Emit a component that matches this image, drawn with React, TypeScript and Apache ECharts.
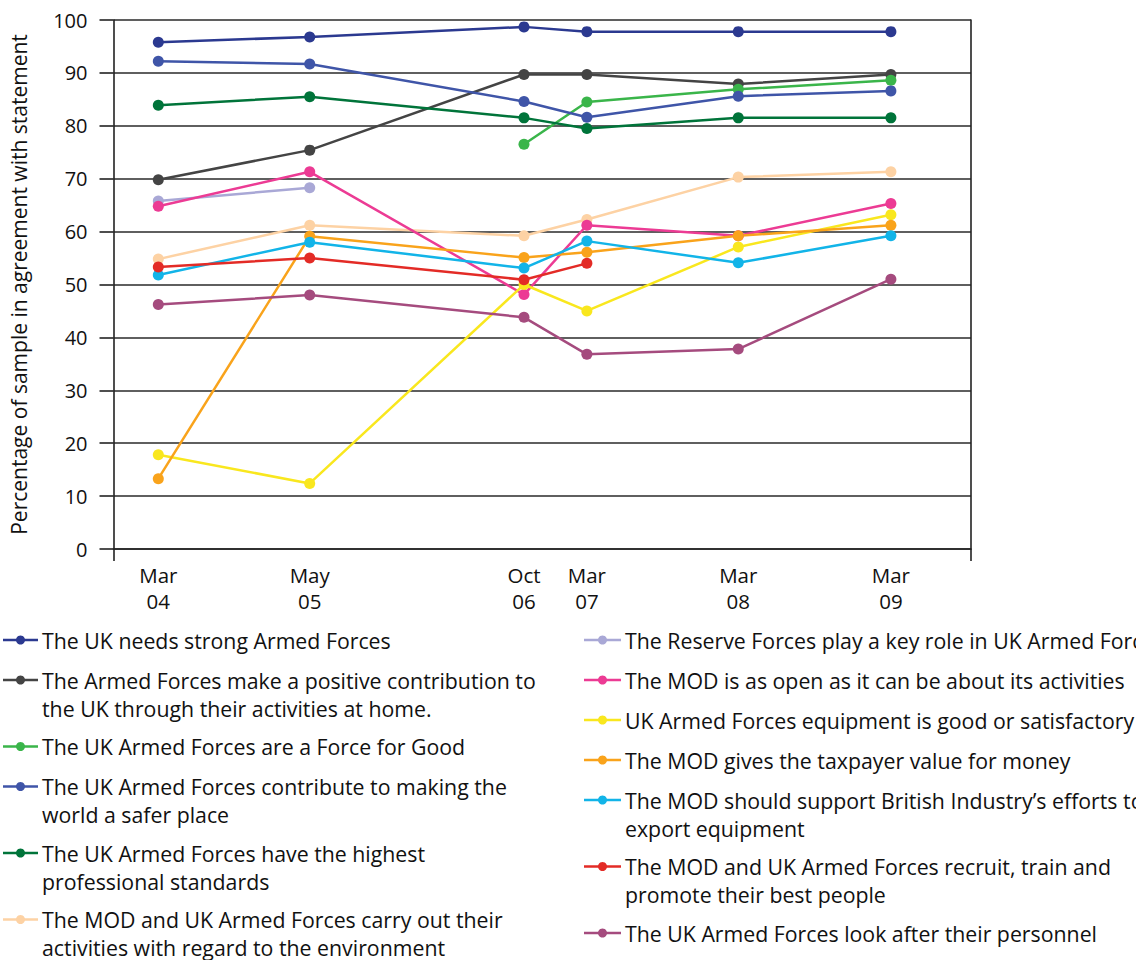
import React, { useEffect, useRef } from "react";
import * as echarts from "echarts";

// Survey waves and where each falls on the time axis (months after Mar 2004, as placed on the chart)
const surveyLabels = ["Mar\n04", "May\n05", "Oct\n06", "Mar\n07", "Mar\n08", "Mar\n09"];
const surveyPositions = [0, 12.4, 29.95, 35.1, 47.5, 60];
const xMin = -3.67;
const xMax = 66.56;

const yTicks = [0, 10, 20, 30, 40, 50, 60, 70, 80, 90, 100];

const seriesNames = [
  "The UK needs strong Armed Forces",
  "The Armed Forces make a positive contribution to\nthe UK through their activities at home.",
  "The UK Armed Forces are a Force for Good",
  "The UK Armed Forces contribute to making the\nworld a safer place",
  "The UK Armed Forces have the highest\nprofessional standards",
  "The MOD and UK Armed Forces carry out their\nactivities with regard to the environment",
  "The Reserve Forces play a key role in UK Armed Forces",
  "The MOD is as open as it can be about its activities",
  "UK Armed Forces equipment is good or satisfactory",
  "The MOD gives the taxpayer value for money",
  "The MOD should support British Industry\u2019s efforts to\nexport equipment",
  "The MOD and UK Armed Forces recruit, train and\npromote their best people",
  "The UK Armed Forces look after their personnel",
];

const strongForces = [95.8, 96.8, 98.7, 97.8, 97.8, 97.8];
const positiveContribution = [69.8, 75.4, 89.7, 89.7, 87.9, 89.7];
const forceForGood = [null, null, 76.5, 84.5, 86.9, 88.6];
const saferPlace = [92.2, 91.7, 84.6, 81.6, 85.6, 86.6];
const professionalStandards = [83.9, 85.5, 81.5, 79.5, 81.5, 81.5];
const environment = [54.8, 61.2, 59.2, 62.3, 70.3, 71.3];
const reserveForces = [65.8, 68.3, null, null, null, null];
const modOpen = [64.8, 71.3, 48.1, 61.2, 59.2, 65.3];
const equipment = [17.8, 12.4, 50.0, 45.0, 57.1, 63.2];
const valueForMoney = [13.3, 59.1, 55.1, 56.1, 59.2, 61.2];
const britishIndustry = [51.8, 58.0, 53.1, 58.2, 54.1, 59.2];
const recruitTrain = [53.3, 55.0, 50.9, 54.0, null, null];
const personnel = [46.2, 48.0, 43.8, 36.8, 37.8, 51.0];

const seriesValues = [
  strongForces,
  positiveContribution,
  forceForGood,
  saferPlace,
  professionalStandards,
  environment,
  reserveForces,
  modOpen,
  equipment,
  valueForMoney,
  britishIndustry,
  recruitTrain,
  personnel,
];

const seriesColors = [
  "#2b3990",
  "#444444",
  "#3ab54a",
  "#3f55a8",
  "#00743a",
  "#fdd2a4",
  "#a9a8d6",
  "#ec3b94",
  "#f9e71e",
  "#f9a31b",
  "#12b4e8",
  "#e32b26",
  "#a54b7e",
];

const leftColumnCount = 6;

const FONT = "'Open Sans', 'Noto Sans', sans-serif";

function buildLegend(): any[] {
  const elements: any[] = [];
  const cols = [
    { x0: 3, x1: 38, tx: 42, start: 0, end: leftColumnCount },
    { x0: 584, x1: 621, tx: 625, start: leftColumnCount, end: seriesNames.length },
  ];
  cols.forEach((c) => {
    let y = 640;
    for (let i = c.start; i < c.end; i++) {
      const lines = seriesNames[i].split("\n").length;
      const color = seriesColors[i];
      elements.push({
        type: "line",
        shape: { x1: c.x0, y1: y, x2: c.x1, y2: y },
        style: { stroke: color, lineWidth: 2.5 },
      });
      elements.push({
        type: "circle",
        shape: { cx: (c.x0 + c.x1) / 2, cy: y, r: 4.5 },
        style: { fill: color },
      });
      elements.push({
        type: "text",
        x: c.tx,
        y: y - 14,
        style: {
          text: seriesNames[i],
          fill: "#111",
          font: `21.3px ${FONT}`,
          lineHeight: 28,
          verticalAlign: "top",
          align: "left",
        },
      });
      y += 26.5 * lines + 13.5;
    }
  });
  return elements;
}

export default function App() {
  const ref = useRef<HTMLDivElement>(null);

  useEffect(() => {
    if (!ref.current) return;
    const chart = echarts.init(ref.current, null, { renderer: "svg" });

    const series = seriesValues.map((vals, i) => ({
      name: seriesNames[i],
      type: "line",
      data: vals
        .map((v, j) => (v === null ? null : [surveyPositions[j], v]))
        .filter((d) => d !== null),
      symbol: "circle",
      symbolSize: 11,
      itemStyle: { color: seriesColors[i] },
      lineStyle: { color: seriesColors[i], width: 2.5 },
      yAxisIndex: 0,
    }));

    chart.setOption({
      animation: false,
      backgroundColor: "#ffffff",
      textStyle: { fontFamily: FONT },
      grid: { left: 113.5, right: 165, top: 20, bottom: 411, containLabel: false },
      xAxis: {
        type: "value",
        min: xMin,
        max: xMax,
        axisLine: { show: true, onZero: false, lineStyle: { color: "#222", width: 1.6 } },
        axisTick: {
          show: true,
          customValues: [xMin, xMax],
          length: 12,
          lineStyle: { color: "#222", width: 1.6 },
        },
        splitLine: { show: false },
        axisLabel: {
          customValues: surveyPositions,
          formatter: (v: number) => {
            const idx = surveyPositions.findIndex((p) => Math.abs(p - v) < 1e-6);
            return idx >= 0 ? surveyLabels[idx] : "";
          },
          color: "#111",
          fontSize: 20.5,
          lineHeight: 26,
          margin: 13,
          fontFamily: FONT,
        },
      },
      yAxis: [
        {
          type: "value",
          min: 0,
          max: 100,
          interval: 10,
          name: "Percentage of sample in agreement with statement",
          nameLocation: "middle",
          nameGap: 84,
          nameTextStyle: { color: "#111", fontSize: 21, fontFamily: FONT },
          axisLine: { show: true, onZero: false, lineStyle: { color: "#222", width: 1.6 } },
          axisTick: { show: true, length: 14, lineStyle: { color: "#222", width: 1.6 } },
          splitLine: { show: true, lineStyle: { color: "#2a2a2a", width: 1.6 } },
          axisLabel: {
            color: "#111",
            fontSize: 20,
            margin: 26,
            fontFamily: FONT,
            customValues: yTicks,
          },
        },
        {
          type: "value",
          min: 0,
          max: 100,
          interval: 10,
          position: "right",
          axisLine: { show: true, onZero: false, lineStyle: { color: "#222", width: 1.6 } },
          axisTick: { show: false },
          axisLabel: { show: false },
          splitLine: { show: false },
        },
      ],
      legend: { show: false },
      series,
      graphic: buildLegend(),
    });

    return () => chart.dispose();
  }, []);

  return (
    <div
      ref={ref}
      style={{ position: "absolute", left: 0, top: 0, width: 1136, height: 960 }}
    />
  );
}
